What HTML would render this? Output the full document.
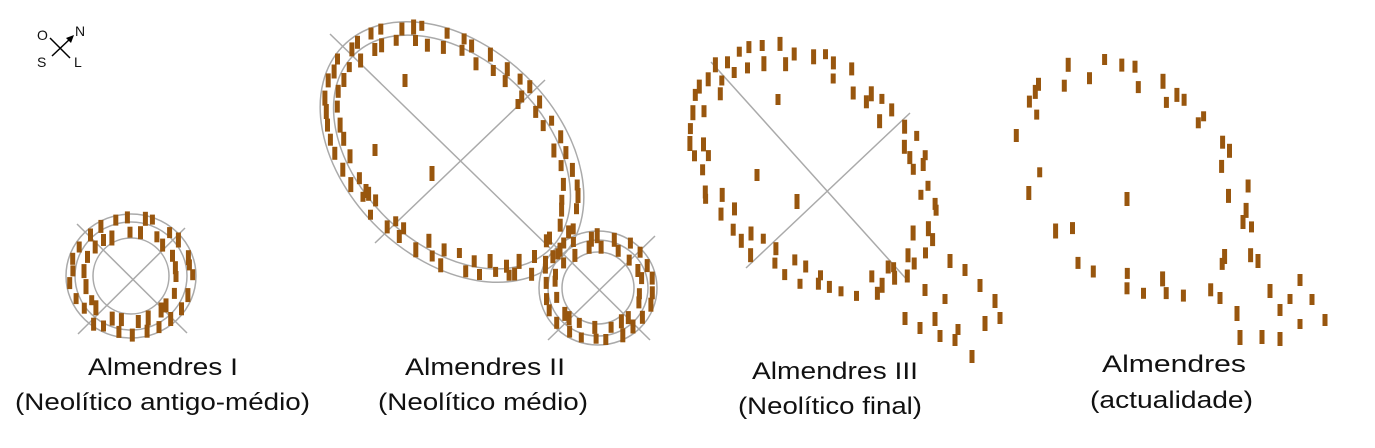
<!DOCTYPE html>
<html><head><meta charset="utf-8">
<style>
html,body{margin:0;padding:0;background:#fff;}
svg{display:block;}
text{font-family:"Liberation Sans",sans-serif;fill:#111;}
</style></head>
<body>
<svg id="s" width="1375" height="448" viewBox="0 0 1375 448" xmlns="http://www.w3.org/2000/svg">
<g stroke="#aaa" stroke-width="1.5" fill="none">
  <ellipse cx="131" cy="276" rx="65" ry="62"/>
  <ellipse cx="131" cy="276" rx="56" ry="54"/>
  <ellipse cx="131" cy="276" rx="38" ry="38"/>
  <line x1="77" y1="224" x2="187" y2="333"/>
  <line x1="185" y1="228" x2="78" y2="334"/>
  <ellipse cx="452" cy="152" rx="152" ry="106" transform="rotate(44 452 152)"/>
  <ellipse cx="452" cy="152" rx="138" ry="93" transform="rotate(44 452 152)"/>
  <line x1="330" y1="34" x2="550" y2="248"/>
  <line x1="545" y1="80" x2="375" y2="243"/>
  <ellipse cx="598" cy="288" rx="59" ry="57"/>
  <ellipse cx="598" cy="288" rx="50" ry="48"/>
  <ellipse cx="598" cy="288" rx="36" ry="36"/>
  <line x1="545" y1="236" x2="650" y2="340"/>
  <line x1="655" y1="236" x2="548" y2="340"/>
  <line x1="711" y1="62" x2="909" y2="282"/>
  <line x1="746" y1="268" x2="910" y2="113"/>
</g>
<g id="stones" fill="#98560e"></g>
<g>
  <line x1="50" y1="38" x2="70" y2="58" stroke="#000" stroke-width="1.5"/>
  <line x1="52" y1="56" x2="71" y2="38" stroke="#000" stroke-width="1.5"/>
  <polygon points="74,35 66,38 71,43" fill="#000"/>
  <text x="37" y="40" font-size="14">O</text>
  <text x="75" y="36" font-size="14">N</text>
  <text x="37" y="67" font-size="14">S</text>
  <text x="74" y="67" font-size="14">L</text>
</g>
<g font-size="24">
  <text x="88" y="375" textLength="150" lengthAdjust="spacingAndGlyphs">Almendres I</text>
  <text x="15" y="410" textLength="295" lengthAdjust="spacingAndGlyphs">(Neolítico antigo-médio)</text>
  <text x="405" y="375" textLength="160" lengthAdjust="spacingAndGlyphs">Almendres II</text>
  <text x="378" y="410" textLength="210" lengthAdjust="spacingAndGlyphs">(Neolítico médio)</text>
  <text x="752" y="379" textLength="166" lengthAdjust="spacingAndGlyphs">Almendres III</text>
  <text x="738" y="414" textLength="184" lengthAdjust="spacingAndGlyphs">(Neolítico final)</text>
  <text x="1102" y="372" textLength="144" lengthAdjust="spacingAndGlyphs">Almendres</text>
  <text x="1090" y="408" textLength="163" lengthAdjust="spacingAndGlyphs">(actualidade)</text>
</g>
</svg>
<script>
(function(){
var g=document.getElementById('stones');var seed=7;
function r(){seed=(seed*16807)%2147483647;return (seed-1)/2147483646;}
function st(x,y,h){var e=document.createElementNS('http://www.w3.org/2000/svg','rect');
e.setAttribute('x',(x-2.5).toFixed(1));e.setAttribute('y',(y-6).toFixed(1));
e.setAttribute('width','5');e.setAttribute('height',h||(10+Math.round(r()*5)));g.appendChild(e);}
function ring(cx,cy,a,b,ang,n,jit,from,to,skip){
 var c=Math.cos(ang*Math.PI/180),s=Math.sin(ang*Math.PI/180);
 from=from||0;to=to||360;
 for(var i=0;i<n;i++){var t=(from+(to-from)*(i+r()*0.5)/n)*Math.PI/180;
  if(skip&&r()<skip)continue;
  var ex=a*Math.cos(t)+(r()-0.5)*jit,ey=b*Math.sin(t)+(r()-0.5)*jit;
  st(cx+ex*c-ey*s,cy+ex*s+ey*c);}
}
ring(131,276,60,58,0,26,4);ring(131,276,47,45,0,22,4);
ring(452,152,146,100,44,50,6);ring(452,152,132,88,44,42,6);
st(405,80);st(432,172);st(375,150);st(518,105);st(366,190);
ring(598,288,54,52,0,24,4);ring(598,288,43,41,0,20,4);
// Almendres III
ring(812,170,140,100,46,50,8);ring(812,170,124,86,46,40,8,0,360,0.2);
st(778,100);st(797,200);st(757,175);
var t3=[[925,290],[945,300],[958,330],[972,356],[935,318],[950,260],[965,270],[980,285],[995,300],[1000,318],[985,322],[905,318],[920,328],[940,336],[955,340]];
t3.forEach(function(p){st(p[0],p[1]);});
// Almendres actual
ring(1135,180,135,95,46,40,10,0,360,0.3);ring(1135,180,120,82,46,20,10,0,360,0.4);
st(1127,198);
var t4=[[1258,260],[1270,290],[1280,310],[1300,280],[1312,300],[1325,320],[1300,325],[1290,300],[1240,336],[1262,336],[1280,338],[1237,312],[1220,298]];
t4.forEach(function(p){st(p[0],p[1]);});
})();
</script>
</body></html>
